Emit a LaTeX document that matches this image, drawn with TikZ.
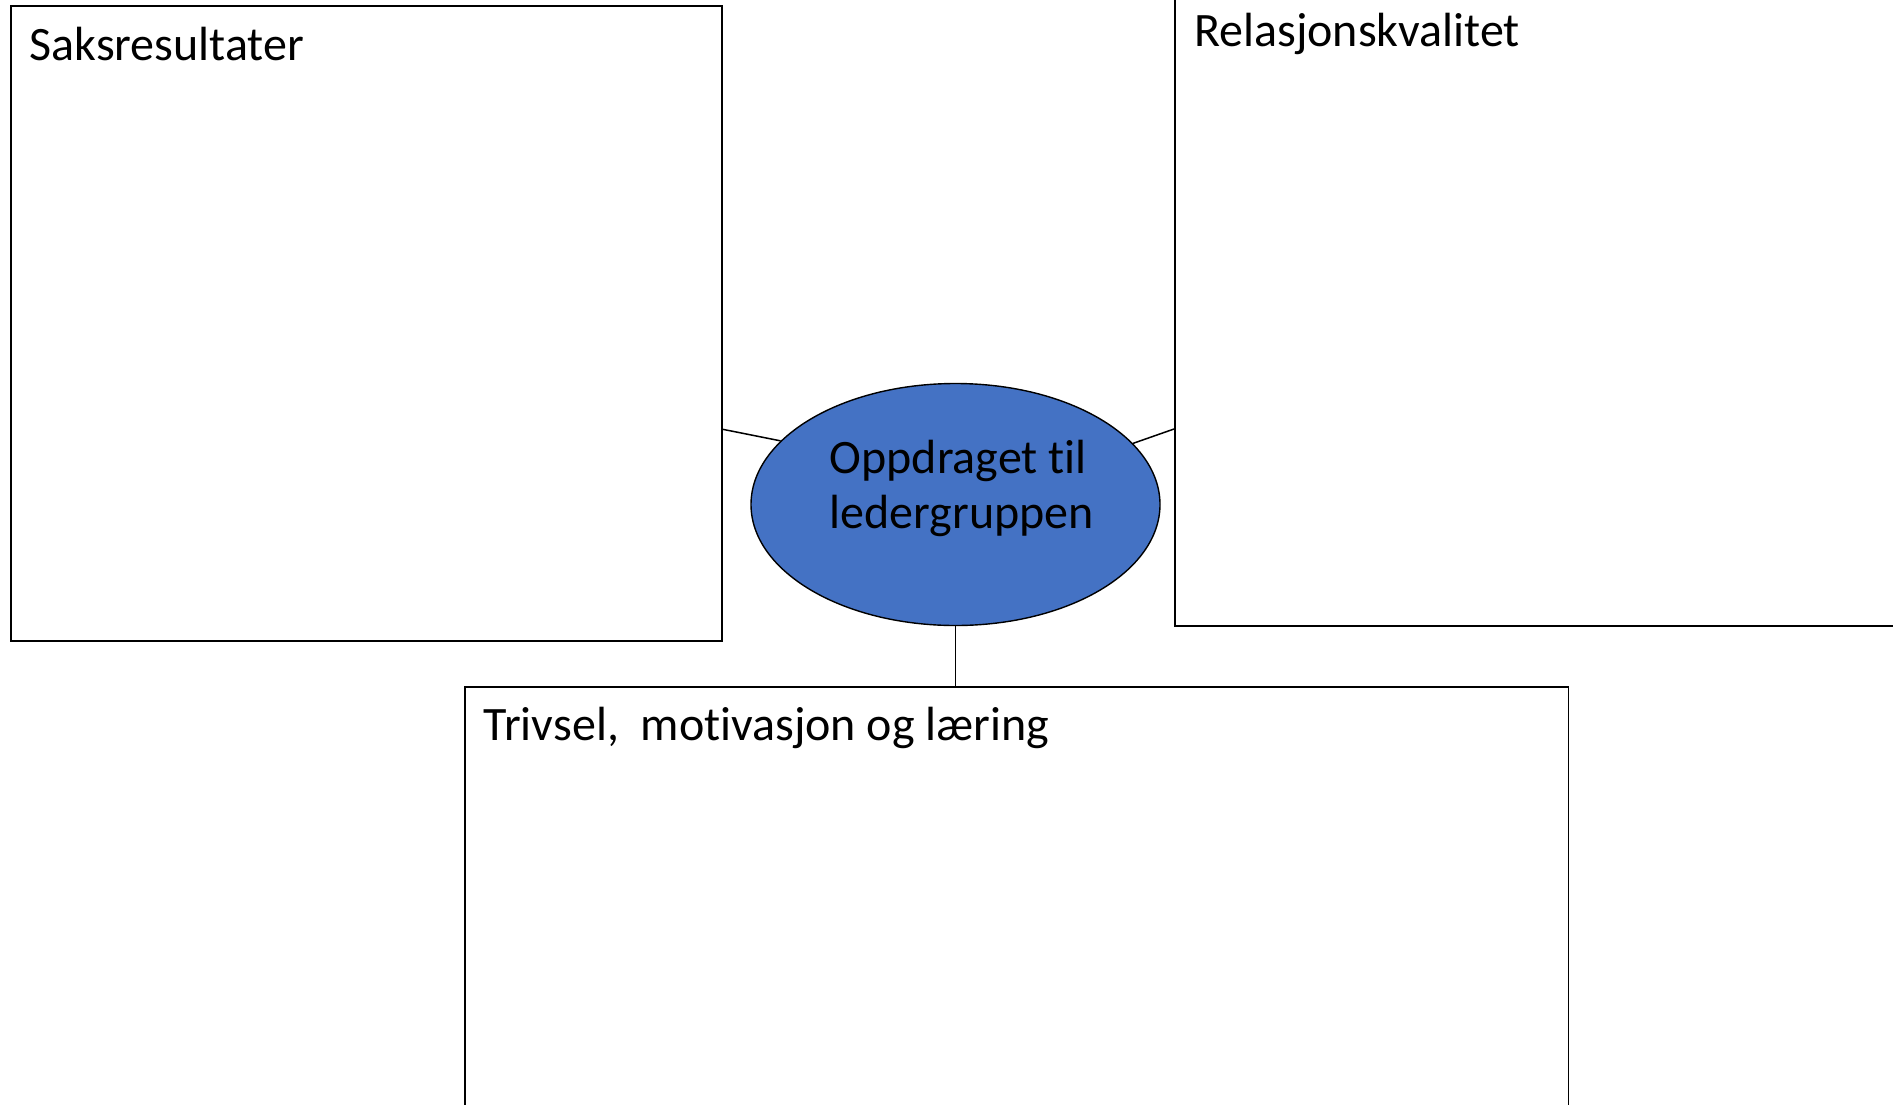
\documentclass[tikz,border=0pt]{standalone}
\usepackage{fontspec}
\setmainfont[Ligatures=NoCommon]{Carlito}
\usetikzlibrary{shapes.geometric,calc}
\definecolor{ovalblue}{HTML}{4472C4}
\tikzset{
  panel/.style={draw=black, line width=1.9pt, fill=none, inner sep=0pt, anchor=north west},
  paneltext/.style={inner sep=0pt, anchor=base west, font=\fontsize{48}{56}\selectfont},
  oval/.style={ellipse, draw=black, line width=1.4pt, fill=ovalblue, inner sep=0pt,
    minimum width=409pt, minimum height=242pt},
  link/.style={draw=black, line width=1.5pt}
}
\begin{document}
\begin{tikzpicture}[x=1pt,y=-1pt]
\useasboundingbox (0,0) rectangle (1893,1104);
\clip (0,0) rectangle (1893,1104);
\fill[white] (0,0) rectangle (1893,1104);
% panels
\node[panel, minimum width=710.5pt, minimum height=635pt] (b1) at (10.3,5.3) {};
\node[panel, minimum width=740pt, minimum height=635pt] (b2) at (1174,-10) {};
\node[panel, minimum width=1103.5pt, minimum height=440pt] (b3) at (464,685.7) {};
% oval
\node[oval] (ov) at (955.5,504.5) {};
\node[inner sep=0pt, anchor=base west, align=left, font=\fontsize{48}{55}\selectfont] (ovt) at (829.5,528.3) {Oppdraget til\\ledergruppen};
% titles
\node[paneltext] (t1) at (29.4,60.7) {Saksresultater};
\node[paneltext] (t2) at (1194,46) {Relasjonskvalitet};
\node[paneltext] (t3) at (483.5,740) {Trivsel,\ \ motivasjon og læring};
% connectors
\coordinate (c1) at ($(b1.north east)+(0,424)$);
\coordinate (c2) at ($(b2.north west)+(0,439)$);
\draw[link] (c1) -- (ov.160.7);
\draw[link] (ov.19.2) -- (c2);
\draw[link] (ov.south) -- (ov.south |- b3.north);
\end{tikzpicture}
\end{document}
